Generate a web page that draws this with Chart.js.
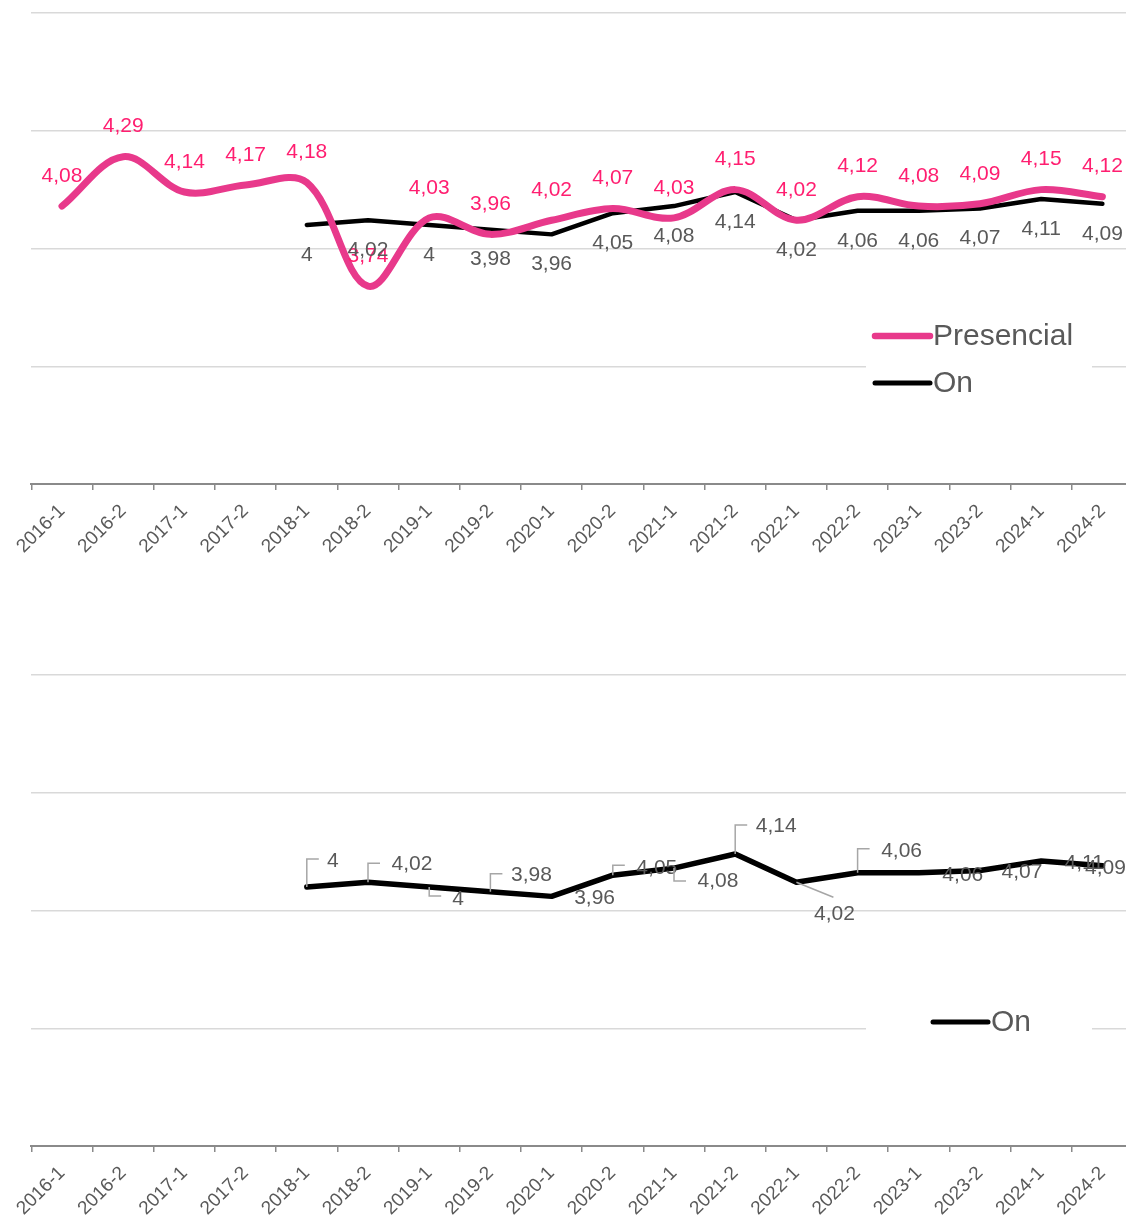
<!DOCTYPE html>
<html>
<head>
<meta charset="utf-8">
<script src="https://cdn.jsdelivr.net/npm/chart.js@4/dist/chart.umd.min.js"></script>
<style>
  html, body { margin: 0; padding: 0; background: #fff; overflow: hidden; }
  .wrap { position: absolute; left: 0; }
  canvas { display: block; }
</style>
</head>
<body>
<div class="wrap" style="top:0"><canvas id="bothChart" width="1133" height="600"></canvas></div>
<div class="wrap" style="top:600px"><canvas id="onChart" width="1133" height="619"></canvas></div>
<script>
// --- DATA ---
const periods = ['2016-1','2016-2','2017-1','2017-2','2018-1','2018-2','2019-1','2019-2','2020-1','2020-2','2021-1','2021-2','2022-1','2022-2','2023-1','2023-2','2024-1','2024-2'];
const presencial = [4.08, 4.29, 4.14, 4.17, 4.18, 3.74, 4.03, 3.96, 4.02, 4.07, 4.03, 4.15, 4.02, 4.12, 4.08, 4.09, 4.15, 4.12];
const online = [null, null, null, null, 4, 4.02, 4, 3.98, 3.96, 4.05, 4.08, 4.14, 4.02, 4.06, 4.06, 4.07, 4.11, 4.09];
const yMin = 2.9;
const yMax = 4.9;
const yStep = 0.5;

// --- STYLE ---
const FONT = "'Liberation Sans', Arial, sans-serif";
const PINK_LINE = '#e8398b';
const PINK_TEXT = '#ff1e70';
const GRAY_TEXT = '#595959';
const LEADER = '#a6a6a6';

// label placement for the lower chart (offsets from the point, px)
const onCallouts = [
  null, null, null, null,
  { dx: 26, dy: -26, ly: -28 },
  { dx: 44, dy: -18, ly: -19 },
  { dx: 29, dy: 12, ly: 9 },
  { dx: 41, dy: -16, ly: -18 },
  { dx: 43, dy: 2 },
  { dx: 44, dy: -7, ly: -10 },
  { dx: 44, dy: 13, ly: 13 },
  { dx: 41, dy: -28, ly: -29 },
  { dx: 38, dy: 32, diag: [37, 15] },
  { dx: 44, dy: -22, ly: -24 },
  { dx: 44, dy: 2 },
  { dx: 42, dy: 2 },
  { dx: 43, dy: 2 },
  { dx: 3, dy: 2 }
];

const fmt = v => String(v).replace('.', ',');

function scaleOptions(plotBottom, canvasH) {
  return {
    x: {
      offset: true,
      grid: { display: true, drawOnChartArea: false, offset: true, tickLength: 6, color: '#8a8a8a', lineWidth: 1.5 },
      border: { display: true, color: '#8a8a8a', width: 2 },
      ticks: { color: GRAY_TEXT, font: { family: FONT, size: 19 }, minRotation: 45, maxRotation: 45, autoSkip: false, padding: 10 },
      afterFit: s => { s.height = canvasH - plotBottom; s.paddingLeft = 0; s.paddingRight = 0; }
    },
    y: {
      min: yMin, max: yMax,
      grid: { color: '#d9d9d9', lineWidth: 1.5, drawTicks: false },
      border: { display: false },
      ticks: { display: false, stepSize: yStep },
      afterFit: s => { s.width = 31.4; }
    }
  };
}

// legend drawn inside the plot, on a white patch
function boxLegend(id, box, items) {
  return {
    id: id,
    afterDraw(chart) {
      const ctx = chart.ctx;
      ctx.save();
      ctx.fillStyle = '#fff';
      ctx.fillRect(box.x, box.y, box.w, box.h);
      items.forEach(it => {
        ctx.strokeStyle = it.color;
        ctx.lineWidth = it.width;
        ctx.lineCap = 'round';
        ctx.beginPath();
        ctx.moveTo(it.x, it.y);
        ctx.lineTo(it.x + 55, it.y);
        ctx.stroke();
        ctx.fillStyle = GRAY_TEXT;
        ctx.font = '30px ' + FONT;
        ctx.textAlign = 'left';
        ctx.textBaseline = 'middle';
        ctx.fillText(it.text, it.x + 58, it.y + 1);
      });
      ctx.restore();
    }
  };
}

// value labels: pink above, gray below
const bothLabels = {
  id: 'bothLabels',
  afterDatasetsDraw(chart) {
    const ctx = chart.ctx;
    ctx.save();
    ctx.font = '21px ' + FONT;
    ctx.textAlign = 'center';
    ctx.textBaseline = 'middle';
    const styles = [{ color: PINK_TEXT, dy: -30 }, { color: GRAY_TEXT, dy: 30 }];
    chart.data.datasets.forEach((ds, di) => {
      chart.getDatasetMeta(di).data.forEach((pt, i) => {
        if (ds.data[i] == null) return;
        ctx.fillStyle = styles[di].color;
        ctx.fillText(fmt(ds.data[i]), pt.x, pt.y + styles[di].dy);
      });
    });
    ctx.restore();
  }
};

// value labels with leader lines
const onLabels = {
  id: 'onLabels',
  afterDatasetsDraw(chart) {
    const ctx = chart.ctx;
    const ds = chart.data.datasets[0];
    ctx.save();
    ctx.font = '21px ' + FONT;
    ctx.textAlign = 'center';
    ctx.textBaseline = 'middle';
    chart.getDatasetMeta(0).data.forEach((pt, i) => {
      const c = onCallouts[i];
      if (ds.data[i] == null || !c) return;
      ctx.strokeStyle = LEADER;
      ctx.lineWidth = 1.5;
      if (c.ly !== undefined) {
        ctx.beginPath();
        ctx.moveTo(pt.x, pt.y);
        ctx.lineTo(pt.x, pt.y + c.ly);
        ctx.lineTo(pt.x + 12, pt.y + c.ly);
        ctx.stroke();
      } else if (c.diag) {
        ctx.beginPath();
        ctx.moveTo(pt.x, pt.y);
        ctx.lineTo(pt.x + c.diag[0], pt.y + c.diag[1]);
        ctx.stroke();
      }
      ctx.fillStyle = GRAY_TEXT;
      ctx.fillText(fmt(ds.data[i]), pt.x + c.dx, pt.y + c.dy);
    });
    ctx.restore();
  }
};

const baseOptions = {
  responsive: false,
  animation: false,
  events: [],
  plugins: { legend: { display: false }, tooltip: { enabled: false } },
  elements: { point: { radius: 0 } }
};

new Chart(document.getElementById('bothChart'), {
  type: 'line',
  data: {
    labels: periods,
    datasets: [
      { label: 'Presencial', data: presencial, borderColor: PINK_LINE, borderWidth: 7, tension: 0.35, borderCapStyle: 'round', borderJoinStyle: 'round' },
      { label: 'On', data: online, borderColor: '#000', borderWidth: 4.5, tension: 0, borderCapStyle: 'round', borderJoinStyle: 'round' }
    ]
  },
  options: Object.assign({}, baseOptions, {
    layout: { padding: { top: 13, left: 0, right: 0, bottom: 0 } },
    scales: scaleOptions(484, 600)
  }),
  plugins: [bothLabels, boxLegend('legendTop', { x: 866, y: 305, w: 226, h: 105 }, [
    { text: 'Presencial', color: PINK_LINE, width: 6.5, x: 875, y: 336 },
    { text: 'On', color: '#000', width: 5, x: 875, y: 383 }
  ])]
});

new Chart(document.getElementById('onChart'), {
  type: 'line',
  data: {
    labels: periods,
    datasets: [
      { label: 'On', data: online, borderColor: '#000', borderWidth: 5.5, tension: 0, borderCapStyle: 'round', borderJoinStyle: 'round' }
    ]
  },
  options: Object.assign({}, baseOptions, {
    layout: { padding: { top: 75, left: 0, right: 0, bottom: 0 } },
    scales: scaleOptions(546, 619)
  }),
  plugins: [onLabels, boxLegend('legendBottom', { x: 866, y: 400, w: 226, h: 50 }, [
    { text: 'On', color: '#000', width: 5, x: 933, y: 422 }
  ])]
});
</script>
</body>
</html>
